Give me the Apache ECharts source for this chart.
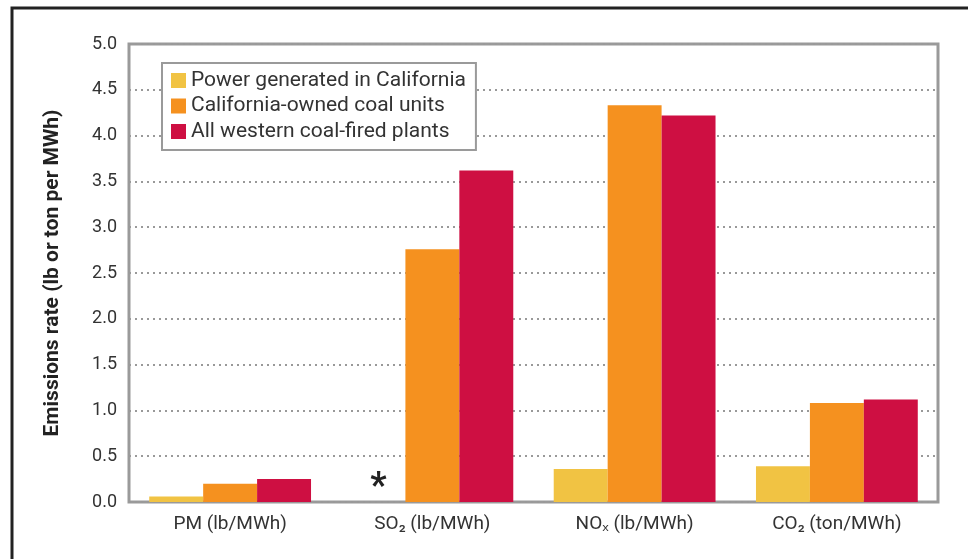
<!DOCTYPE html>
<html>
<head>
<meta charset="utf-8">
<script src="https://cdn.jsdelivr.net/npm/echarts@6/dist/echarts.min.js"></script>
<style>
  html, body { margin: 0; padding: 0; background: #fff; }
  #chart { width: 968px; height: 559px; }
</style>
</head>
<body>
<div id="chart"></div>
<script>
// categories and values
const categories = ['PM (lb/MWh)', 'SO₂ (lb/MWh)', 'NOₓ (lb/MWh)', 'CO₂ (ton/MWh)'];
const seriesNames = ['Power generated in California', 'California-owned coal units', 'All western coal-fired plants'];
const powerCA = [0.06, 0, 0.36, 0.39];
const caCoal = [0.20, 2.76, 4.33, 1.08];
const westernCoal = [0.25, 3.62, 4.22, 1.12];
const yTicks = ['0.0', '0.5', '1.0', '1.5', '2.0', '2.5', '3.0', '3.5', '4.0', '4.5', '5.0'];

const colors = ['#F1C343', '#F5911F', '#CE0F42'];
const font = 'Roboto, "Noto Sans", sans-serif';

const chart = echarts.init(document.getElementById('chart'));

// SO2 has no in-state value, the original marks it with an asterisk
const powerData = powerCA.map((v, i) => i === 1
  ? { value: v, label: { show: true, formatter: '*', position: 'top', distance: -4,
      fontSize: 36, fontWeight: 'bold', color: '#222', fontFamily: font } }
  : v);

const option = {
  animation: false,
  color: colors,
  textStyle: { fontFamily: font },
  graphic: [{
    type: 'rect',
    shape: { x: 12, y: 8, width: 1000, height: 620 },
    style: { fill: 'none', stroke: '#222', lineWidth: 3 },
    silent: true
  }],
  grid: {
    left: 129, right: 30, top: 44, bottom: 57,
    show: true, borderColor: '#9a9a9a', borderWidth: 3, backgroundColor: 'transparent'
  },
  legend: {
    orient: 'vertical',
    left: 162, top: 63,
    data: seriesNames,
    itemWidth: 15, itemHeight: 15, itemGap: 4.5,
    padding: [7, 10, 8, 9],
    borderColor: '#9a9a9a', borderWidth: 2, backgroundColor: '#fff',
    icon: 'rect',
    textStyle: { fontSize: 21, color: '#333', fontFamily: font }
  },
  xAxis: {
    type: 'category',
    data: categories,
    axisLine: { show: false },
    axisTick: { show: false },
    axisLabel: { fontSize: 19, color: '#333', margin: 13, fontFamily: font }
  },
  yAxis: {
    type: 'value',
    min: 0, max: 5, interval: 0.5,
    name: 'Emissions rate (lb or ton per MWh)',
    nameLocation: 'middle',
    nameGap: 66,
    nameTextStyle: { fontSize: 21, fontWeight: 'bold', color: '#222', fontFamily: font },
    axisLine: { show: false },
    axisTick: { show: false },
    axisLabel: {
      fontSize: 18, color: '#333', margin: 12, fontFamily: font,
      formatter: v => yTicks[Math.round(v * 2)]
    },
    splitLine: { lineStyle: { type: [2, 4], width: 2, color: '#999' } }
  },
  series: [
    { name: seriesNames[0], type: 'bar', data: powerData, barGap: '0%', barCategoryGap: '20%' },
    { name: seriesNames[1], type: 'bar', data: caCoal, barGap: '0%', barCategoryGap: '20%' },
    { name: seriesNames[2], type: 'bar', data: westernCoal, barGap: '0%', barCategoryGap: '20%' }
  ]
};

chart.setOption(option);
</script>
</body>
</html>
